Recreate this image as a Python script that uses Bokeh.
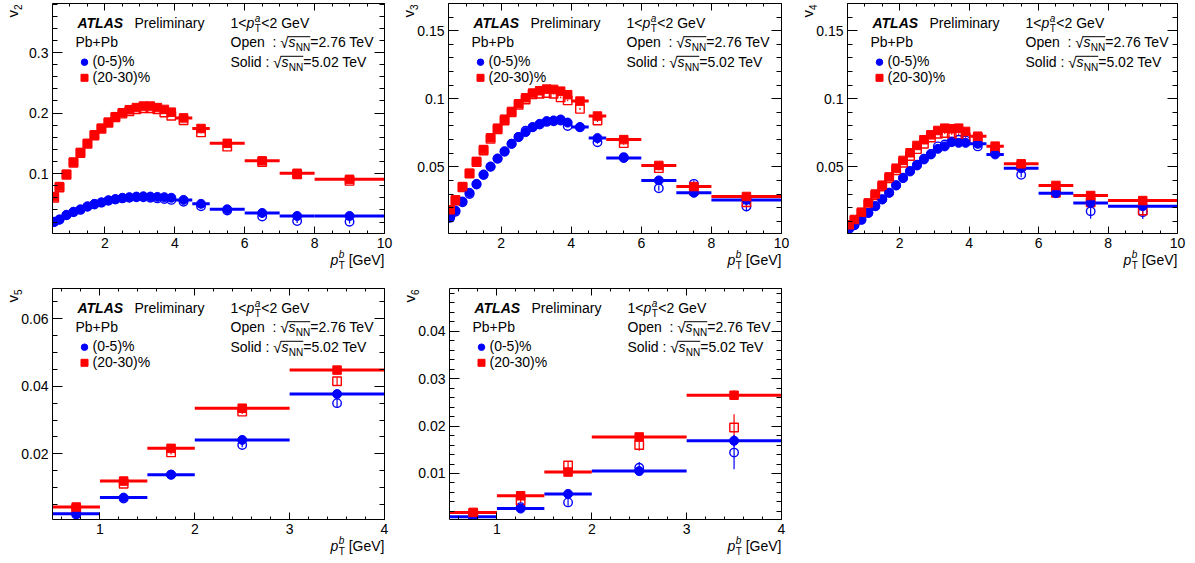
import math
from bokeh.plotting import figure
from bokeh.models import Range1d, LinearAxis, SingleIntervalTicker, CustomJSTickFormatter
from bokeh.core.properties import value
from bokeh.layouts import row, column
from bokeh.embed import file_html
from bokeh.resources import INLINE

# ---------------- data ----------------
PT_B = [0.55, 0.7, 0.9, 1.1, 1.3, 1.5, 1.7, 1.9, 2.1, 2.3, 2.5, 2.7, 2.9, 3.1, 3.3, 3.5, 3.7, 3.9,
        4.25, 4.75, 5.5, 6.5, 7.5, 9.0]
PT_B_HALF = [0.05, 0.1, 0.1, 0.1, 0.1, 0.1, 0.1, 0.1, 0.1, 0.1, 0.1, 0.1, 0.1, 0.1, 0.1, 0.1, 0.1, 0.1,
             0.25, 0.25, 0.5, 0.5, 0.5, 1.0]

V2_2030_502 = [0.062, 0.0785, 0.099, 0.119, 0.135, 0.150, 0.164, 0.175, 0.185, 0.194, 0.2005, 0.2055, 0.209, 0.2115, 0.2115, 0.209, 0.206, 0.2015, 0.192, 0.1745, 0.150, 0.121, 0.1005, 0.0905]
V2_2030_276 = [0.060, 0.077, 0.098, 0.118, 0.134, 0.149, 0.163, 0.174, 0.184, 0.193, 0.199, 0.203, 0.206, 0.208, 0.208, 0.206, 0.201, 0.1955, 0.188, 0.168, 0.1445, 0.119, 0.099, 0.088]
V2_05_502 = [0.0204, 0.0243, 0.032, 0.037, 0.041, 0.046, 0.050, 0.0525, 0.056, 0.058, 0.060, 0.061, 0.062, 0.0625, 0.062, 0.0615, 0.061, 0.060, 0.0565, 0.050, 0.041, 0.035, 0.030, 0.030]
V2_05_276 = [0.020, 0.0238, 0.031, 0.036, 0.040, 0.045, 0.049, 0.052, 0.055, 0.057, 0.059, 0.060, 0.061, 0.061, 0.060, 0.059, 0.058, 0.0565, 0.0535, 0.046, 0.039, 0.029, 0.0215, 0.0205]
E2_2030_276 = [0.0004, 0.0004, 0.0004, 0.0004, 0.0004, 0.0004, 0.0004, 0.0004, 0.0004, 0.0004, 0.0004, 0.0004, 0.0005, 0.0005, 0.0005, 0.0005, 0.0006, 0.0006, 0.001, 0.0015, 0.002, 0.0025, 0.003, 0.003]
E2_05_276 = [0.0003, 0.0003, 0.0003, 0.0003, 0.0003, 0.0003, 0.0003, 0.0003, 0.0003, 0.0003, 0.0003, 0.0003, 0.0004, 0.0004, 0.0004, 0.0004, 0.0005, 0.0005, 0.001, 0.0015, 0.002, 0.0025, 0.003, 0.003]

V3_2030_502 = [0.0184, 0.0257, 0.0355, 0.0453, 0.054, 0.0627, 0.0713, 0.0784, 0.085, 0.0907, 0.0963, 0.1007, 0.1042, 0.1059, 0.1071, 0.1069, 0.1056, 0.103, 0.0983, 0.0873, 0.070, 0.051, 0.0355, 0.0282]
V3_2030_276 = [0.017, 0.0253, 0.035, 0.045, 0.0535, 0.062, 0.0705, 0.0775, 0.084, 0.090, 0.0955, 0.0995, 0.1032, 0.1037, 0.1042, 0.1037, 0.101, 0.0988, 0.0926, 0.084, 0.0674, 0.049, 0.0326, 0.024]
V3_05_502 = [0.0135, 0.0179, 0.0245, 0.0309, 0.0375, 0.0444, 0.0502, 0.0561, 0.0615, 0.0669, 0.0718, 0.0755, 0.0792, 0.0816, 0.0836, 0.0841, 0.0848, 0.0825, 0.0792, 0.0711, 0.0565, 0.040, 0.0309, 0.0257]
V3_05_276 = [0.0125, 0.017, 0.024, 0.030, 0.037, 0.044, 0.050, 0.056, 0.061, 0.067, 0.072, 0.0765, 0.079, 0.081, 0.083, 0.0835, 0.084, 0.080, 0.079, 0.068, 0.057, 0.0343, 0.0375, 0.0208]
E3_2030_276 = [0.0004, 0.0004, 0.0004, 0.0004, 0.0004, 0.0004, 0.0004, 0.0004, 0.0004, 0.0004, 0.0005, 0.0005, 0.0005, 0.0005, 0.0006, 0.0006, 0.0007, 0.0007, 0.0008, 0.001, 0.0012, 0.0015, 0.002, 0.003]
E3_05_276 = [0.0004, 0.0004, 0.0004, 0.0004, 0.0004, 0.0004, 0.0004, 0.0004, 0.0004, 0.0004, 0.0005, 0.0005, 0.0005, 0.0005, 0.0006, 0.0006, 0.0007, 0.0007, 0.0008, 0.001, 0.0012, 0.0018, 0.0025, 0.0035]

V4_2030_502 = [0.0074, 0.0113, 0.0167, 0.0235, 0.030, 0.0365, 0.0426, 0.049, 0.0547, 0.0603, 0.0657, 0.0699, 0.0735, 0.0767, 0.0784, 0.078, 0.0784, 0.076, 0.0725, 0.0652, 0.0522, 0.0363, 0.0289, 0.0252]
V4_2030_276 = [0.007, 0.0105, 0.016, 0.0225, 0.029, 0.0355, 0.0415, 0.0475, 0.053, 0.058, 0.063, 0.067, 0.0715, 0.0743, 0.0748, 0.0743, 0.0738, 0.0718, 0.0713, 0.0627, 0.0505, 0.0309, 0.024, 0.0179]
V4_05_502 = [0.0049, 0.0074, 0.0113, 0.0162, 0.0211, 0.026, 0.0309, 0.0363, 0.0417, 0.0466, 0.051, 0.0554, 0.0591, 0.0632, 0.065, 0.0681, 0.0676, 0.0676, 0.0669, 0.0591, 0.049, 0.0306, 0.0235, 0.0211]
V4_05_276 = [0.0045, 0.007, 0.011, 0.016, 0.021, 0.0262, 0.031, 0.0365, 0.042, 0.047, 0.0515, 0.056, 0.0595, 0.065, 0.0664, 0.0686, 0.0699, 0.0694, 0.065, 0.0608, 0.0441, 0.0314, 0.0174, 0.0167]
E4_2030_276 = [0.0004, 0.0004, 0.0004, 0.0004, 0.0004, 0.0004, 0.0004, 0.0004, 0.0004, 0.0005, 0.0005, 0.0005, 0.0006, 0.0006, 0.0007, 0.0007, 0.0008, 0.0008, 0.001, 0.0012, 0.0015, 0.002, 0.0035, 0.004]
E4_05_276 = [0.0004, 0.0004, 0.0004, 0.0004, 0.0004, 0.0004, 0.0004, 0.0004, 0.0004, 0.0005, 0.0005, 0.0005, 0.0006, 0.0006, 0.0007, 0.0007, 0.0008, 0.0008, 0.001, 0.0012, 0.0018, 0.0025, 0.0055, 0.005]

PT_B_LOW = [0.75, 1.25, 1.75, 2.5, 3.5]
PT_B_LOW_HALF = [0.25, 0.25, 0.25, 0.5, 0.5]

V5_2030_502 = [0.0042, 0.0119, 0.0216, 0.0335, 0.0448]
V5_2030_276 = [0.0037, 0.0111, 0.0204, 0.0325, 0.0415]
V5_05_502 = [0.0022, 0.0070, 0.0138, 0.0241, 0.0377]
V5_05_276 = [0.0020, 0.0067, 0.0138, 0.0226, 0.0350]
E5_2030_276 = [0.0003, 0.0005, 0.0006, 0.0007, 0.0012]
E5_05_276 = [0.0003, 0.0004, 0.0005, 0.0007, 0.0012]

V6_2030_502 = [0.0018, 0.0053, 0.0103, 0.0177, 0.0265]
V6_2030_276 = [0.0016, 0.0043, 0.0117, 0.0160, 0.0197]
V6_05_502 = [0.0009, 0.0026, 0.0057, 0.0105, 0.0169]
V6_05_276 = [0.0006, 0.0029, 0.0039, 0.0112, 0.0144]
E6_2030_276 = [0.0003, 0.0006, 0.0008, 0.0012, 0.0028]
E6_05_276 = [0.0003, 0.0005, 0.0007, 0.0012, 0.0035]
E6_2030_502 = [0.0002, 0.0003, 0.0004, 0.0005, 0.0010]
E6_05_502 = [0.0002, 0.0003, 0.0004, 0.0008, 0.0012]

# ---------------- style ----------------
FONT = "Liberation Sans"
RED = "#ff0000"
BLUE = "#0000ff"
FS = 14
SFS = 10
BASELINE_FIX = 0.42  # text anchor correction, fraction of font size

AW = {' ': 278, '(': 333, ')': 333, '%': 889, '+': 584, '-': 333, '.': 278, ':': 278, '<': 584,
      '=': 584, 'A': 667, 'G': 778, 'L': 556, 'N': 722, 'O': 778, 'P': 667, 'S': 667, 'T': 611,
      'V': 667, '[': 278, ']': 278, 'a': 556, 'b': 556, 'd': 556, 'e': 556, 'i': 222, 'l': 222,
      'm': 833, 'n': 556, 'o': 556, 'p': 556, 'r': 333, 's': 500, 'v': 500, 'y': 500, '\u221a': 549}


def tw(s, size):
    return sum(AW.get(c, 556) for c in s) * size / 1000.0


def style_axis(ax, ticker, labels, tick_len):
    ax.ticker = ticker
    ax.axis_line_color = "black"
    ax.axis_line_width = 1
    ax.major_tick_line_color = "black"
    ax.minor_tick_line_color = "black"
    ax.major_tick_in = tick_len
    ax.major_tick_out = 0
    ax.minor_tick_in = tick_len // 2
    ax.minor_tick_out = 0
    if labels:
        ax.formatter = CustomJSTickFormatter(code="return Number(tick.toFixed(6)).toString();")
        ax.major_label_text_font = FONT
        ax.major_label_text_font_size = f"{FS}px"
        ax.major_label_text_color = "black"
        ax.major_label_standoff = 4
    else:
        ax.major_label_text_color = None
        ax.major_label_text_font_size = "1px"
        ax.major_label_standoff = 0


def make_panel(harm, x, hw, ys_red, yo_red, ys_blue, yo_blue, eo_red, eo_blue, es_red, es_blue,
               xr, yr, xstep, xminor, ystep, yminor, w, h, bl, br, bt, bb):
    p = figure(width=w, height=h, x_range=Range1d(*xr), y_range=Range1d(*yr),
               output_backend="svg", toolbar_location=None,
               min_border_left=bl, min_border_right=br, min_border_top=bt, min_border_bottom=bb,
               background_fill_color="white", border_fill_color="white")
    p.outline_line_color = None
    p.xgrid.visible = False
    p.ygrid.visible = False
    xt = SingleIntervalTicker(interval=xstep, num_minor_ticks=xminor)
    yt = SingleIntervalTicker(interval=ystep, num_minor_ticks=yminor)
    style_axis(p.xaxis[0], xt, True, 7)
    style_axis(p.yaxis[0], yt, True, 10)
    top = LinearAxis()
    style_axis(top, xt, False, 7)
    right = LinearAxis()
    style_axis(right, yt, False, 10)
    p.add_layout(top, "above")
    p.add_layout(right, "right")

    fw = w - bl - br
    fh = h - bt - bb
    x0, x1 = xr
    y0, y1 = yr

    def dx(px):
        return x0 + px * (x1 - x0) / fw

    def dy(py):
        return y1 - py * (y1 - y0) / fh

    def lab(px, py, text, size=FS, style="normal", align="left", angle=0.0):
        # px, py: frame-relative pixel position of the text baseline
        if angle == 0.0:
            py = py - BASELINE_FIX * size
        else:
            px = px - BASELINE_FIX * size
        p.text(x=[dx(px)], y=[dy(py)], text=[text], text_font=value(FONT),
               text_font_size=value(f"{size}px"), text_font_style=style,
               text_align=align, text_baseline="alphabetic", angle=angle,
               text_color="black", level="overlay")

    # ---- open (2.76 TeV) vertical errors ----
    for yv, ev, col in ((yo_blue, eo_blue, BLUE), (yo_red, eo_red, RED)):
        p.segment(x0=x, x1=x, y0=[a - b for a, b in zip(yv, ev)], y1=[a + b for a, b in zip(yv, ev)],
                  line_color=col, line_width=1.2)
    # ---- solid (5.02 TeV) x-bars ----
    for yv, col in ((ys_blue, BLUE), (ys_red, RED)):
        p.segment(x0=[a - b for a, b in zip(x, hw)], x1=[a + b for a, b in zip(x, hw)],
                  y0=yv, y1=yv, line_color=col, line_width=3)
    # open markers
    p.scatter(x=x, y=yo_blue, marker="circle", size=8.5, fill_color=None, line_color=BLUE, line_width=1.4)
    p.scatter(x=x, y=yo_red, marker="square", size=8.5, fill_color=None, line_color=RED, line_width=1.4)
    # solid vertical errors
    for yv, ev, col in ((ys_blue, es_blue, BLUE), (ys_red, es_red, RED)):
        if ev is not None:
            p.segment(x0=x, x1=x, y0=[a - b for a, b in zip(yv, ev)], y1=[a + b for a, b in zip(yv, ev)],
                      line_color=col, line_width=1.5)
    p.scatter(x=x, y=ys_blue, marker="circle", size=9, fill_color=BLUE, line_color=BLUE)
    p.scatter(x=x, y=ys_red, marker="square", size=8.5, fill_color=RED, line_color=RED)

    # ---- header text ----
    lab(25, 25, "ATLAS", style="bold italic")
    lab(82, 25, "Preliminary")
    lab(23, 44.7, "Pb+Pb")
    p.scatter(x=[dx(32)], y=[dy(58.7)], marker="circle", size=6.5, fill_color=BLUE, line_color=BLUE)
    lab(40, 63.7, "(0-5)%")
    p.scatter(x=[dx(32)], y=[dy(74.3)], marker="square", size=7, fill_color=RED, line_color=RED)
    lab(40, 79.3, "(20-30)%")

    rx = 178
    b1 = 25
    lab(rx, b1, "1<")
    cx = rx + tw("1<", FS)
    lab(cx, b1, "p", style="italic")
    cx += tw("p", FS) + 0.5
    lab(cx, b1 + 4, "T", size=SFS)
    lab(cx, b1 - 6, "a", size=SFS, style="italic")
    cx += tw("T", SFS) + 0.5
    lab(cx, b1, "<2 GeV")

    for bl_, head, colon_after, energy in ((44.7, "Open", "Open  ", "=2.76 TeV"),
                                          (64.3, "Solid", "Solid ", "=5.02 TeV")):
        lab(rx, bl_, head)
        lab(rx + tw(colon_after, FS), bl_, ":")
        sx = rx + tw(colon_after + ": ", FS)
        lab(sx, bl_ + 1, "\u221a", size=FS + 1)
        s0 = sx + tw("\u221a", FS + 1)
        lab(s0, bl_, "s", style="italic")
        nx = s0 + tw("s", FS) + 0.3
        lab(nx, bl_ + 3.5, "NN", size=SFS)
        ex = nx + tw("NN", SFS)
        p.segment(x0=[dx(s0 - 0.8)], x1=[dx(ex)], y0=[dy(bl_ - 11.5)], y1=[dy(bl_ - 11.5)],
                  line_color="black", line_width=1)
        lab(ex, bl_, energy)

    # ---- axis titles ----
    lab(-34, 6.5, "v", size=FS + 1, align="right", angle=math.pi / 2)
    lab(-30.5, 1, harm, size=SFS, align="right", angle=math.pi / 2)
    base = fh + 32
    gx = fw - tw("[GeV]", FS)
    lab(fw, base, "[GeV]", align="right")
    px_ = gx - tw(" ", FS) - 6.5
    lab(px_, base, "p", style="italic", align="right")
    lab(px_ + 0.5, base - 7, "b", size=SFS, style="italic")
    lab(px_ + 0.5, base + 4, "T", size=SFS)
    return p


p1 = make_panel("2", PT_B, PT_B_HALF, V2_2030_502, V2_2030_276, V2_05_502, V2_05_276,
                E2_2030_276, E2_05_276, None, None,
                (0.5, 10.0), (0.001, 0.381), 2, 4, 0.1, 5, 398, 281, 52, 14, 3, 48)
p2 = make_panel("3", PT_B, PT_B_HALF, V3_2030_502, V3_2030_276, V3_05_502, V3_05_276,
                E3_2030_276, E3_05_276, None, None,
                (0.5, 10.0), (0.001, 0.17), 2, 4, 0.05, 5, 398, 281, 50, 15, 3, 48)
p3 = make_panel("4", PT_B, PT_B_HALF, V4_2030_502, V4_2030_276, V4_05_502, V4_05_276,
                E4_2030_276, E4_05_276, None, None,
                (0.5, 10.0), (0.001, 0.17), 2, 4, 0.05, 5, 399, 281, 51, 18, 3, 48)
p4 = make_panel("5", PT_B_LOW, PT_B_LOW_HALF, V5_2030_502, V5_2030_276, V5_05_502, V5_05_276,
                E5_2030_276, E5_05_276, None, None,
                (0.5, 4.0), (0.0005, 0.069), 1, 5, 0.02, 4, 398, 282, 52, 14, 7, 44)
p5 = make_panel("6", PT_B_LOW, PT_B_LOW_HALF, V6_2030_502, V6_2030_276, V6_05_502, V6_05_276,
                E6_2030_276, E6_05_276, E6_2030_502, E6_05_502,
                (0.5, 4.0), (0.0003, 0.049), 1, 5, 0.01, 5, 398, 282, 51, 15, 7, 44)

layout = column(row(p1, p2, p3), row(p4, p5))
open("out.html", "w").write(file_html(layout, INLINE))
